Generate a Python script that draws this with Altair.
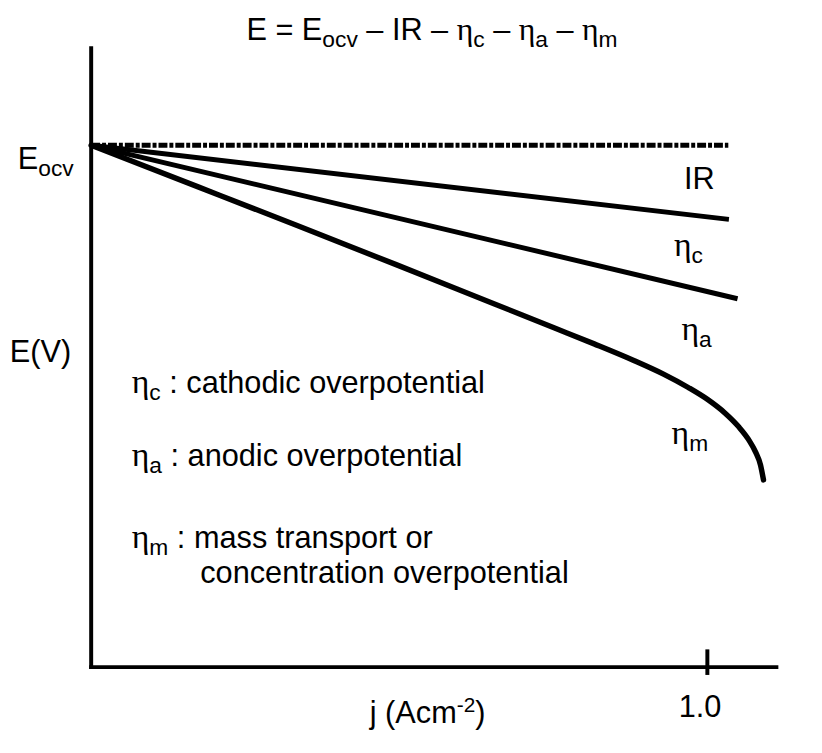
import altair as alt
import pandas as pd

# ---------------- data (j in A cm^-2, E relative to E_ocv = 1) ----------------
ocv_j = [0.0, 1.034]
ocv_E = [1.0, 1.0]
ir_j = [0.0, 1.035]
ir_E = [1.0, 0.858]
etac_j = [0.0, 1.049]
etac_E = [1.0, 0.706]
etam_j = [0.0, 0.1736, 0.3342, 0.4949, 0.6556, 0.7521, 0.8163, 0.8806, 0.9288, 0.9690,
          1.0011, 1.0284, 1.0509, 1.0670, 1.0783, 1.0863, 1.0911]
etam_E = [1.0, 0.9203, 0.8463, 0.7713, 0.6954, 0.6499, 0.6195, 0.5877, 0.5615, 0.5359,
          0.5123, 0.4871, 0.4605, 0.4359, 0.4120, 0.3873, 0.3588]
x_tick_values = [1.0]
x_tick_labels = ["1.0"]

X_DOMAIN = [0.0, 1.112]
Y_DOMAIN = [0.0, 1.186]
W, H = 692, 625
PX = W / (X_DOMAIN[1] - X_DOMAIN[0])
PY = H / (Y_DOMAIN[1] - Y_DOMAIN[0])

BASE, SUB, SUP, ETA = 31, 23, 21, 34
TBASE, TSUB, TETA = 31, 23, 32
SUB_DROP, SUP_RISE = 7, 12

AW = {' ': 278, '(': 333, ')': 333, '-': 333, '.': 278, ':': 278, '=': 584, '–': 556,
      '0': 556, '1': 556, '2': 556, 'A': 667, 'E': 667, 'I': 278, 'R': 722, 'V': 667,
      'a': 556, 'c': 500, 'd': 556, 'e': 556, 'h': 556, 'i': 222, 'j': 222, 'l': 222,
      'm': 833, 'n': 556, 'o': 556, 'p': 556, 'r': 333, 's': 500, 't': 278, 'v': 500,
      'u': 556, 'η': 520}

STYLE = {'n': (BASE, 0, 'sans'), 's': (SUB, -SUB_DROP, 'sans'),
         'S': (SUP, SUP_RISE, 'sans'), 'e': (ETA, 0, 'serif'),
         'tn': (TBASE, 0, 'sans'), 'ts': (TSUB, -SUB_DROP, 'sans'), 'te': (TETA, 0, 'serif')}


def tw(s, size):
    return sum(AW.get(ch, 556) for ch in s) / 1000.0 * size


def compose(pieces, x0, y0, align='left'):
    total = 0.0
    for s, k in pieces:
        total += tw(s, STYLE[k][0])
    cur = x0 - (total / 2 / PX if align == 'center' else 0.0)
    rows = []
    for s, k in pieces:
        size, off, font = STYLE[k]
        lead = len(s) - len(s.lstrip(' '))
        trail = len(s) - len(s.rstrip(' '))
        core = s.strip(' ')
        cur += tw(' ' * lead, size) / PX
        rows.append({'x': cur, 'y': y0 + off / PY, 'text': core, 'size': size, 'font': font})
        cur += (tw(core, size) + tw(' ' * trail, size)) / PX
    return rows


labels = []
labels += compose([("E = E", 'tn'), ("ocv", 'ts'), (" – IR – ", 'tn'), ("η", 'te'), ("c", 'ts'),
                   (" – ", 'tn'), ("η", 'te'), ("a", 'ts'), (" – ", 'tn'), ("η", 'te'), ("m", 'ts')],
                  0.553, 1.2011, 'center')
labels += compose([("E", 'n'), ("ocv", 's')], -0.119, 0.954)
labels += compose([("E(V)", 'n')], -0.132, 0.584)
labels += compose([("IR", 'n')], 0.962, 0.917)
labels += compose([("η", 'e'), ("c", 's')], 0.946, 0.787)
labels += compose([("η", 'e'), ("a", 's')], 0.958, 0.626)
labels += compose([("η", 'e'), ("m", 's')], 0.942, 0.427)
labels += compose([("η", 'e'), ("c", 's'), (" : cathodic overpotential", 'n')], 0.066, 0.526)
labels += compose([("η", 'e'), ("a", 's'), (" : anodic overpotential", 'n')], 0.066, 0.385)
labels += compose([("η", 'e'), ("m", 's'), (" : mass transport or", 'n')], 0.066, 0.228)
labels += compose([("concentration overpotential", 'n')], 0.177, 0.161)
for v, t in zip(x_tick_values, x_tick_labels):
    labels += compose([(t, 'n')], v - 0.012, -0.095, 'center')
labels += compose([("j (Acm", 'n'), ("-2", 'S'), (")", 'n')], 0.546, -0.108, 'center')
lab_df = pd.DataFrame(labels)

xs = alt.Scale(domain=X_DOMAIN, nice=False, zero=False)
ys = alt.Scale(domain=Y_DOMAIN, nice=False, zero=False)


def line_layer(js, Es, **kw):
    df = pd.DataFrame({'j': js, 'E': Es, 'i': range(len(js))})
    return alt.Chart(df).mark_line(color='black', **kw).encode(
        x=alt.X('j:Q', scale=xs, axis=None),
        y=alt.Y('E:Q', scale=ys, axis=None),
        order='i:Q')


axes_df = pd.DataFrame({'x': [0.0, 0.0], 'x2': [0.0, X_DOMAIN[1]],
                        'y': [0.0, 0.0], 'y2': [Y_DOMAIN[1], 0.0]})
axes = alt.Chart(axes_df).mark_rule(color='black', strokeWidth=4, strokeCap='square').encode(
    x=alt.X('x:Q', scale=xs, axis=None), x2='x2:Q',
    y=alt.Y('y:Q', scale=ys, axis=None), y2='y2:Q')

tick_df = pd.DataFrame({'x': x_tick_values, 'y': [-0.015] * len(x_tick_values),
                        'y2': [0.034] * len(x_tick_values)})
ticks = alt.Chart(tick_df).mark_rule(color='black', strokeWidth=4).encode(
    x=alt.X('x:Q', scale=xs, axis=None),
    y=alt.Y('y:Q', scale=ys, axis=None), y2='y2:Q')


def text_layer(font_kind, family):
    return alt.Chart(lab_df).transform_filter(
        alt.datum.font == font_kind
    ).mark_text(align='left', baseline='alphabetic', font=family, color='black').encode(
        x=alt.X('x:Q', scale=xs, axis=None),
        y=alt.Y('y:Q', scale=ys, axis=None),
        text='text:N',
        size=alt.Size('size:Q', scale=None))


chart = alt.layer(
    axes, ticks,
    line_layer(ocv_j, ocv_E, strokeWidth=5, strokeDash=[9, 2, 4, 2]),
    line_layer(ir_j, ir_E, strokeWidth=5),
    line_layer(etac_j, etac_E, strokeWidth=5),
    line_layer(etam_j, etam_E, strokeWidth=5.5, strokeCap='round', interpolate='monotone'),
    text_layer('sans', 'Liberation Sans'),
    text_layer('serif', 'Liberation Serif'),
).properties(
    width=W, height=H,
    padding={'left': 84, 'top': 37, 'right': 38, 'bottom': 75},
    autosize=alt.AutoSizeParams(type='none'),
    background='white',
).configure_view(stroke=None)

chart.save("out.html", embed_options={"renderer": "svg", "actions": False})
